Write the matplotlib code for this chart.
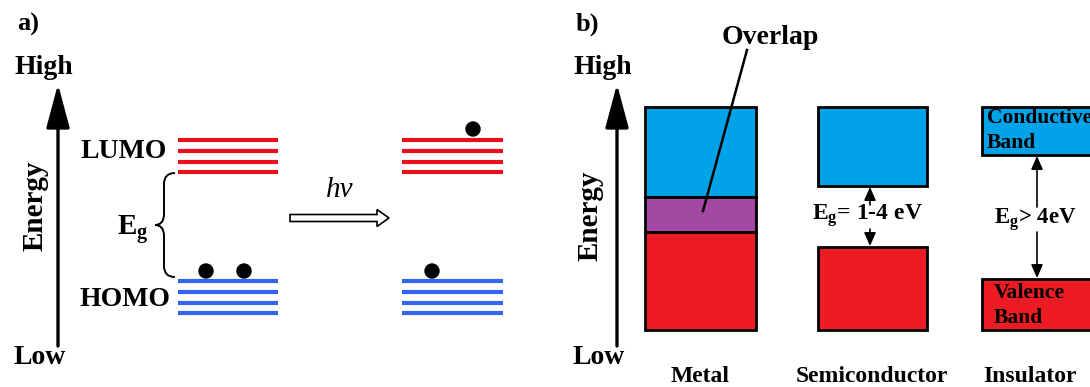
import matplotlib
matplotlib.use('Agg')
import matplotlib.pyplot as plt
import matplotlib.patches as mpatches
from matplotlib.path import Path

plt.rcParams['font.family'] = ['Liberation Serif', 'DejaVu Serif']
plt.rcParams['font.weight'] = 'bold'
plt.rcParams['mathtext.fontset'] = 'custom'
plt.rcParams['mathtext.rm'] = 'Liberation Serif:bold'
plt.rcParams['mathtext.it'] = 'Liberation Serif:italic:bold'

# panel a: molecular levels (pixel positions of the schematic)
lumo_y = [140, 151, 162, 172]
homo_y = [281, 292, 303, 313]
level_x = [(178, 278), (402, 503)]          # ground state, excited state
electrons = [[(206, 271), (244, 271)], [(473, 129), (432, 271)]]

# panel b: band diagrams
materials = ['Metal', 'Semiconductor', 'Insulator']
band_left = [645, 818, 982]
band_right = [756, 927, 1100]
cond_top = [107, 107, 107]
cond_bottom = [197, 186, 155]
val_top = [232, 247, 279]
val_bottom = [330, 330, 330]
gap_labels = ['', 'E$_\\mathrm{g}$= 1-4 eV', 'E$_\\mathrm{g}$> 4eV']

RED = '#ed1c24'
BLUE = '#00a2e8'
PURPLE = '#a349a4'
LRED = '#e8101c'
LBLUE = '#3465f0'

fig = plt.figure(figsize=(10.9, 3.87), dpi=100)
ax = fig.add_axes([0, 0, 1, 1])
ax.set_xlim(0, 1090)
ax.set_ylim(387, 0)
ax.axis('off')


def energy_axis(x, lab_x, energy_x, energy_y):
    ax.annotate('', xy=(x, 84), xytext=(x, 346),
                arrowprops=dict(arrowstyle='-|>,head_length=0.9,head_width=0.24',
                                lw=2.4, color='black', mutation_scale=30,
                                shrinkA=0, shrinkB=0))
    ax.text(lab_x, 67, 'High', fontsize=20, ha='center', va='center')
    ax.text(lab_x - 4, 358, 'Low', fontsize=20, ha='center', va='center')
    ax.text(energy_x, energy_y, 'Energy', fontsize=21, rotation=90,
            ha='center', va='center')


# ---- panel a
ax.text(28, 24, 'a)', fontsize=19, ha='center', va='center')
energy_axis(58, 44, 35, 206)

for (x0, x1) in level_x:
    for y in lumo_y:
        ax.plot([x0, x1], [y, y], color=LRED, lw=3.0, solid_capstyle='butt')
    for y in homo_y:
        ax.plot([x0, x1], [y, y], color=LBLUE, lw=3.0, solid_capstyle='butt')
for group in electrons:
    for (cx, cy) in group:
        ax.add_patch(mpatches.Circle((cx, cy), 7, color='black'))

ax.text(124, 152, 'LUMO', fontsize=20, ha='center', va='center')
ax.text(125, 300, 'HOMO', fontsize=20, ha='center', va='center')
ax.text(133, 230, 'E$_\\mathrm{g}$', fontsize=21, ha='center', va='center')

# curly brace
verts = [(175, 173), (164, 173), (164, 184), (164, 214), (164, 225), (155, 225),
         (164, 225), (164, 236), (164, 266), (164, 277), (175, 277)]
codes = [Path.MOVETO, Path.CURVE3, Path.CURVE3, Path.LINETO, Path.CURVE3, Path.CURVE3,
         Path.CURVE3, Path.CURVE3, Path.LINETO, Path.CURVE3, Path.CURVE3]
ax.add_patch(mpatches.PathPatch(Path(verts, codes), fill=False, lw=1.4, ec='black'))

# hollow excitation arrow
ax.add_patch(mpatches.FancyArrow(290, 218, 99, 0, width=7, head_width=17,
                                 head_length=12, length_includes_head=True,
                                 fc='white', ec='black', lw=1.2))
ax.text(340, 190, 'hv', fontsize=21, style='italic', fontweight='normal',
        ha='center', va='center')

# ---- panel b
ax.text(587, 24, 'b)', fontsize=19, ha='center', va='center')
energy_axis(617, 603, 590, 216)

for i, name in enumerate(materials):
    x0, x1 = band_left[i], band_right[i]
    ax.add_patch(mpatches.Rectangle((x0, cond_top[i]), x1 - x0, cond_bottom[i] - cond_top[i],
                                    fc=BLUE, ec='black', lw=2))
    if i == 0:
        # metal: bands overlap
        ax.add_patch(mpatches.Rectangle((x0, cond_bottom[i]), x1 - x0,
                                        val_top[i] - cond_bottom[i],
                                        fc=PURPLE, ec='black', lw=2))
    ax.add_patch(mpatches.Rectangle((x0, val_top[i]), x1 - x0, val_bottom[i] - val_top[i],
                                    fc=RED, ec='black', lw=2))

label_x = [700, 872, 1030]
for name, lx in zip(materials, label_x):
    ax.text(lx, 376, name, fontsize=17, ha='center', va='center')

# overlap pointer
ax.text(770, 38, 'Overlap', fontsize=20, ha='center', va='center')
ax.plot([747, 703], [50, 211], color='black', lw=1.8)

# gap arrows
def gap_arrow(x, y_top, y_bot, t0, t1):
    st = dict(arrowstyle='-|>,head_length=0.5,head_width=0.22', lw=1.2,
              color='black', mutation_scale=16, shrinkA=0, shrinkB=0)
    ax.annotate('', xy=(x, y_top), xytext=(x, t0), arrowprops=st)
    ax.annotate('', xy=(x, y_bot), xytext=(x, t1), arrowprops=st)

gap_arrow(870, cond_bottom[1] + 1, val_top[1] - 1, 205, 229)
ax.text(867, 216, gap_labels[1], fontsize=17, ha='center', va='center')
gap_arrow(1037, cond_bottom[2] + 1, val_top[2] - 1, 207, 232)
ax.text(1035, 220, gap_labels[2], fontsize=16.5, ha='center', va='center')

ax.text(987, 118, 'Conductive', fontsize=15.5, ha='left', va='center')
ax.text(987, 143, 'Band', fontsize=15.5, ha='left', va='center')
ax.text(994, 293, 'Valence', fontsize=15.5, ha='left', va='center')
ax.text(994, 318, 'Band', fontsize=15.5, ha='left', va='center')

fig.savefig('out.png', dpi=100)
